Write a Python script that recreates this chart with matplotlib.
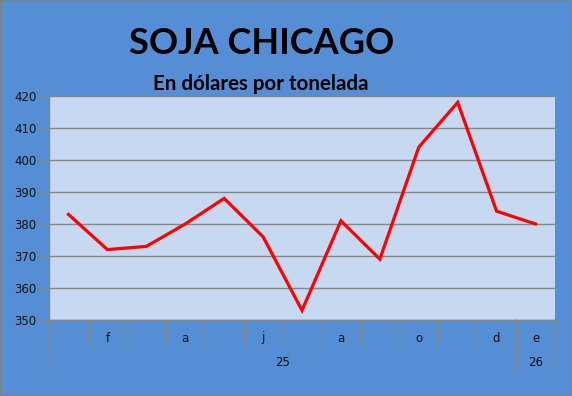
import matplotlib

matplotlib.use("Agg")
import matplotlib.pyplot as plt
from matplotlib.patches import Rectangle

# data
values = [383, 372, 373, 380, 388, 376, 353, 381, 369, 404, 418, 384, 380]
month_labels = ["", "f", "", "a", "", "j", "", "a", "", "o", "", "d", "e"]
year_labels = ["25", "26"]
year_spans = [(0, 12), (12, 13)]
y_ticks = list(range(350, 421, 10))

BG = "#558ED5"
PLOT_BG = "#C6D9F1"
GRID = "#868686"

W, H = 572, 396


def main() -> None:
    fig = plt.figure(figsize=(W / 100, H / 100), dpi=100, facecolor=BG)
    ax = fig.add_axes([49 / W, 1 - 320 / H, 506 / W, 224 / H], facecolor=PLOT_BG)

    n = len(values)
    xs = [i + 0.5 for i in range(n)]
    ax.plot(xs, values, color="#FF0000", lw=2.3, solid_joinstyle="miter", zorder=3)

    ax.set_xlim(0, n)
    ax.set_ylim(y_ticks[0], y_ticks[-1])
    ax.set_yticks(y_ticks)
    ax.set_xticks([])
    ax.grid(axis="y", color=GRID, lw=1)
    ax.set_axisbelow(True)
    ax.tick_params(axis="y", length=7, width=1, color=GRID, pad=2,
                   labelsize=8.5, labelcolor="#111111")
    for s in ("top", "right"):
        ax.spines[s].set_visible(False)
    for s in ("left", "bottom"):
        ax.spines[s].set_color(GRID)
        ax.spines[s].set_linewidth(1)

    # multi-level category axis
    tr = ax.get_xaxis_transform()
    lvl1 = -25 / 224
    lvl2 = -51 / 224
    for i in range(n + 1):
        ax.plot([i, i], [0, lvl1], color=GRID, lw=1, transform=tr, clip_on=False)
    for a, b in year_spans:
        for x in (a, b):
            ax.plot([x, x], [0, lvl2], color=GRID, lw=1, transform=tr, clip_on=False)
    for x, lab in zip(xs, month_labels):
        ax.text(x, -18 / 224, lab, transform=tr, ha="center", va="center",
                fontsize=8.5, color="#111111")
    for (a, b), lab in zip(year_spans, year_labels):
        ax.text((a + b) / 2, -43 / 224, lab, transform=tr, ha="center", va="center",
                fontsize=8.5, color="#111111")

    fig.text(262 / W, 1 - 44 / H, "SOJA CHICAGO", ha="center", va="center",
             fontsize=26, fontweight="bold", family="Lato", color="black")
    fig.text(261 / W, 1 - 84 / H, "En dólares por tonelada", ha="center", va="center",
             fontsize=14.8, fontweight="bold", family="Lato", color="black")

    fig.patches.append(Rectangle((0, 0), 1, 1, transform=fig.transFigure,
                                 fill=False, edgecolor="#808080", lw=1.5))

    fig.savefig("out.png", dpi=100, facecolor=BG)
    plt.close(fig)


if __name__ == "__main__":
    main()
